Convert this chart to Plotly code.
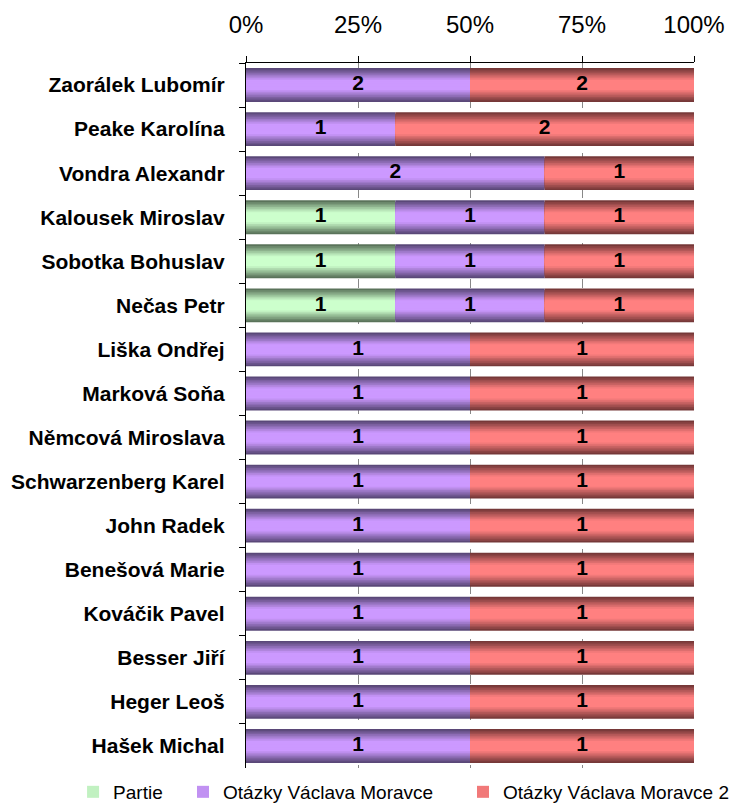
import plotly.graph_objects as go

names = ["Zaorálek Lubomír", "Peake Karolína", "Vondra Alexandr", "Kalousek Miroslav",
         "Sobotka Bohuslav", "Nečas Petr", "Liška Ondřej", "Marková Soňa",
         "Němcová Miroslava", "Schwarzenberg Karel", "John Radek", "Benešová Marie",
         "Kováčik Pavel", "Besser Jiří", "Heger Leoš", "Hašek Michal"]
partie = [0, 0, 0, 1, 1, 1, 0, 0, 0, 0, 0, 0, 0, 0, 0, 0]
ovm = [2, 1, 2, 1, 1, 1, 1, 1, 1, 1, 1, 1, 1, 1, 1, 1]
ovm2 = [2, 2, 1, 1, 1, 1, 1, 1, 1, 1, 1, 1, 1, 1, 1, 1]
series_names = ["Partie", "Otázky Václava Moravce", "Otázky Václava Moravce 2"]
tick_vals = [0, 25, 50, 75, 100]
tick_text = ["0%", "25%", "50%", "75%", "100%"]

series = [partie, ovm, ovm2]
edge_colors = [(90, 115, 90), (90, 72, 120), (118, 56, 56)]
center_colors = [(204, 255, 204), (204, 153, 255), (255, 128, 128)]
legend_ids = ["legend", "legend2", "legend3"]
legend_x = [-0.386, -0.1406, 0.4844]

totals = [sum(s[i] for s in series) for i in range(len(names))]
pcts = [[s[i] / totals[i] * 100 for i in range(len(names))] for s in series]
bases = []
cum = [0.0] * len(names)
for p in pcts:
    bases.append(cum[:])
    cum = [cum[i] + p[i] for i in range(len(names))]

fig = go.Figure()
N = 10
W = 0.77
for si, (nm, p, b) in enumerate(zip(series_names, pcts, bases)):
    for lv in range(N):
        t = lv / (N - 1)
        tt = min(1.0, t * 1.35)
        ec, cc = edge_colors[si], center_colors[si]
        col = "rgb(%d,%d,%d)" % tuple(round(ec[k] + (cc[k] - ec[k]) * tt) for k in range(3))
        w = W * (1 - lv / N)
        fig.add_trace(go.Bar(
            y=names, x=p, base=b, orientation="h", width=w,
            marker=dict(color=col, line=dict(width=0)),
            name=nm, showlegend=(lv == 6), legend=legend_ids[si],
            hoverinfo="skip"))

for si, (p, b, s) in enumerate(zip(pcts, bases, series)):
    xs, ys, ts = [], [], []
    for i in range(len(names)):
        if s[i] > 0:
            xs.append(b[i] + p[i] / 2)
            ys.append(names[i])
            ts.append(str(s[i]))
    fig.add_trace(go.Scatter(x=xs, y=ys, text=ts, mode="text", showlegend=False,
                             textfont=dict(family="Liberation Sans", size=21, color="black",
                                           weight="bold"),
                             hoverinfo="skip"))

leg_common = dict(orientation="h", xanchor="left", y=-0.034, yanchor="middle",
                  font=dict(size=19, family="Liberation Sans", color="black"),
                  itemwidth=30, bgcolor="rgba(0,0,0,0)")
fig.update_layout(
    width=730, height=795,
    barmode="overlay",
    plot_bgcolor="white", paper_bgcolor="white",
    margin=dict(l=238, r=44, t=55, b=35, autoexpand=False),
    font=dict(family="Liberation Sans", color="black"),
    legend=dict(x=legend_x[0], **leg_common),
    legend2=dict(x=legend_x[1], **leg_common),
    legend3=dict(x=legend_x[2], **leg_common),
    xaxis=dict(range=[0, 100], side="top", tickvals=tick_vals, ticktext=tick_text,
               tickfont=dict(size=24), showline=True, linecolor="black", linewidth=1.3,
               ticks="outside", ticklen=6, tickcolor="black", showgrid=True,
               gridcolor="#888888", griddash="dash", gridwidth=1, zeroline=False,
               ticklabelstandoff=13, fixedrange=True, automargin=False),
    yaxis=dict(type="category", categoryorder="array", categoryarray=names,
               range=[len(names) - 0.5, -0.5], showline=True, linecolor="black", linewidth=1.3,
               ticks="outside", tickson="boundaries", ticklen=6, tickcolor="black",
               tickfont=dict(size=21, weight="bold"), showgrid=False, fixedrange=True,
               ticklabelstandoff=16, automargin=False),
)

fig.write_html("out.html")
